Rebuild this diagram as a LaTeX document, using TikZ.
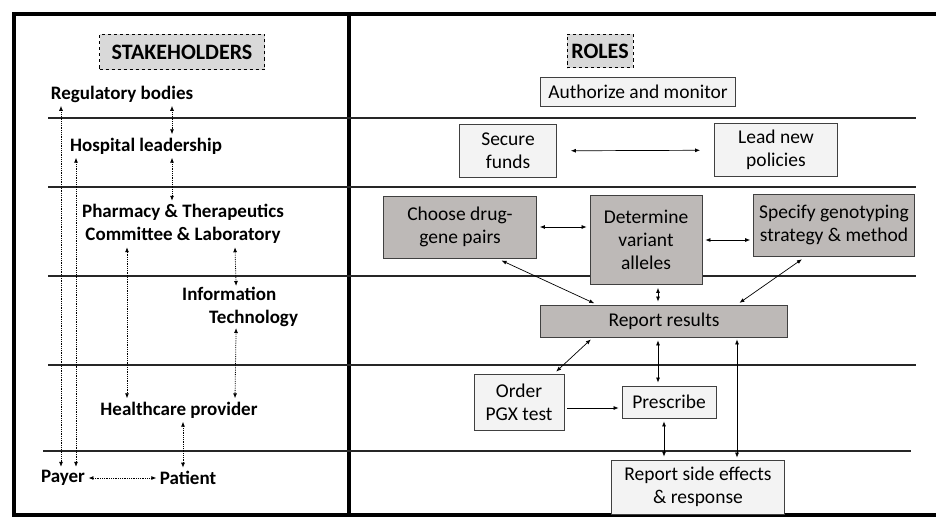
\documentclass[tikz,border=0pt]{standalone}
\usepackage{fontspec}
\setmainfont{Carlito}
\usetikzlibrary{arrows.meta,calc}

\definecolor{headfill}{RGB}{217,217,217}
\definecolor{lightfill}{RGB}{243,243,243}
\definecolor{darkfill}{RGB}{189,185,183}

\tikzset{
	frameline/.style={line width=4pt},
	rowline/.style={line width=2.4pt, draw=black!85},
	header/.style={draw, dashed, line width=1pt, fill=headfill, font=\fontsize{22}{26}\selectfont\bfseries},
	holder/.style={font=\fontsize{19}{23}\selectfont\bfseries, align=center},
	rolebox/.style={draw=black!75, line width=0.8pt, fill=lightfill, align=center, font=\fontsize{19.5}{23}\selectfont, inner sep=2pt},
	darkbox/.style={rolebox, fill=darkfill},
	link/.style={{Latex[length=5pt,width=4pt]}-{Latex[length=5pt,width=4pt]}, line width=0.7pt, shorten <=3pt, shorten >=3pt},
	dotlink/.style={{Latex[length=5pt,width=4pt]}-{Latex[length=5pt,width=4pt]}, densely dotted, line width=0.8pt}
}

\begin{document}
\begin{tikzpicture}[x=1pt, y=-1pt]
	\useasboundingbox (0,0) rectangle (936,519);
	% frame and rows
	\draw[frameline] (950,14) -- (14,14) -- (14,515) -- (950,515);
	\draw[frameline] (349,12) -- (349,517);
	\draw[rowline] (48,118) -- (916,118);
	\draw[rowline] (48,187) -- (916,187);
	\draw[rowline] (48,276) -- (916,276);
	\draw[rowline] (48,365) -- (916,365);
	\draw[rowline] (43,451) -- (911,451);

	% headers
	\node[header, minimum width=165, minimum height=35] (stake) at (182,52) {STAKEHOLDERS};
	\node[header, minimum width=66, minimum height=33] (roles) at (600,51) {ROLES};

	% stakeholders
	\node[holder] (reg) at (122,94) {Regulatory bodies};
	\node[holder] (hosp) at (146,146) {Hospital leadership};
	\node[holder] (pharm) at (183,224) {Pharmacy \& Therapeutics\\Committee \& Laboratory};
	\node[holder, align=left, anchor=west, inner sep=1pt] (info) at (181,307) {Information\\\hspace*{27pt}Technology};
	\node[holder] (health) at (179,410) {Healthcare provider};
	\node[holder] (payer) at (63,478) {Payer};
	\node[holder] (patient) at (188,478) {Patient};

	\draw[dotlink] ([xshift=-61]reg.south) -- ([xshift=-61]reg.south |- payer.north);
	\draw[dotlink] ([xshift=50]reg.south) -- ([xshift=26]hosp.north);
	\draw[dotlink] ([xshift=-70]hosp.south) -- ([xshift=-70]hosp.south |- payer.north);
	\draw[dotlink] ([xshift=26]hosp.south) -- ([xshift=-11]pharm.north);
	\draw[dotlink] ([xshift=-56]pharm.south) -- ([xshift=-52]health.north);
	\draw[dotlink] ([xshift=52]pharm.south) -- ([xshift=-4]info.north);
	\draw[dotlink] ([xshift=-4]info.south) -- ([xshift=56]health.north);
	\draw[dotlink] ([xshift=4]health.south) -- ([xshift=-5]patient.north);
	\draw[dotlink] (payer.east) -- (patient.west);

	% roles
	\node[rolebox, minimum width=195, minimum height=29] (auth) at (638,92) {Authorize and monitor};
	\node[rolebox, minimum width=97, minimum height=53] (funds) at (508,151) {Secure\\funds};
	\node[rolebox, minimum width=123, minimum height=53] (policy) at (776,150) {Lead new\\policies};
	\node[darkbox, minimum width=153, minimum height=62] (choose) at (460,227) {Choose drug-\\gene pairs};
	\node[darkbox, minimum width=112, minimum height=89] (variant) at (646,240) {Determine\\variant\\alleles};
	\node[darkbox, minimum width=161, minimum height=62] (geno) at (834,225) {Specify genotyping\\strategy \& method};
	\node[darkbox, minimum width=247, minimum height=32] (report) at (664,321) {Report results};
	\node[rolebox, minimum width=90, minimum height=56] (order) at (519,402) {Order\\PGX test};
	\node[rolebox, minimum width=94, minimum height=32] (presc) at (669,402) {Prescribe};
	\node[rolebox, minimum width=173, minimum height=54] (side) at (698,487) {Report side effects\\\& response};

	\draw[link, shorten <=14pt, shorten >=14pt] (funds) -- (policy);
	\draw[link] (choose.east) -- (choose.east -| variant.west);
	\draw[link] (variant.east) -- (variant.east -| geno.west);
	\draw[link, shorten <=5pt] ([xshift=37]choose.south) -- ([xshift=-67]report.north);
	\draw[link] ([xshift=12]variant.south) -- ([xshift=-6]report.north);
	\draw[link, shorten <=5pt] ([xshift=-28]geno.south) -- ([xshift=73]report.north);
	\draw[link] ([xshift=-71]report.south) -- ([xshift=35]order.north);
	\draw[link] ([xshift=-6]report.south) -- ([xshift=-11]presc.north);
	\draw[link, shorten <=2pt, shorten >=2pt] ([xshift=73]report.south) -- ([xshift=39]side.north);
	\draw[link, -{Latex[length=5pt,width=4pt]}] ([yshift=-6]order.east) -- ([yshift=-6]order.east -| presc.west);
	\draw[link] ([xshift=-5]presc.south) -- ([xshift=-34]side.north);
\end{tikzpicture}
\end{document}
